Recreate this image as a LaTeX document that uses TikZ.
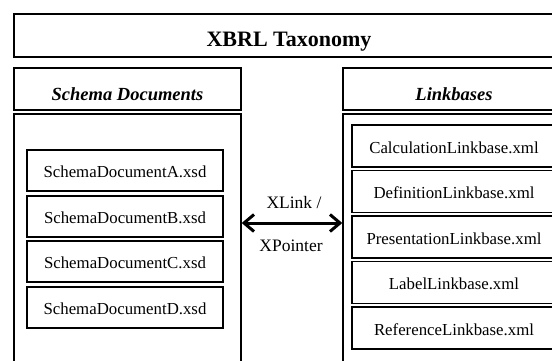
\documentclass[tikz,border=0pt]{standalone}
\usepackage{fontspec}
\setmainfont{Liberation Serif}
\usetikzlibrary{arrows.meta}
\begin{document}
\begin{tikzpicture}[x=1pt,y=-1pt,
  box/.style={draw, line width=1.4pt, rectangle, inner sep=0pt},
  item/.style={draw, line width=1.2pt, rectangle, inner sep=0pt, text height=14.6pt, text depth=0pt, font=\fontsize{16.8}{19}\selectfont},
  head/.style={box, minimum height=42pt, text height=23pt, text depth=0pt, font=\fontsize{18.5}{21}\selectfont\bfseries\itshape},
  lbl/.style={inner sep=0pt, font=\fontsize{17.5}{20}\selectfont}]
\useasboundingbox (0,0) rectangle (552,360);
\clip (0,0) rectangle (552,360);
\node[box, minimum width=550pt, minimum height=43pt, text height=21.6pt, text depth=0pt, font=\fontsize{22}{25}\selectfont\bfseries] (title) at (289,35.5) {XBRL Taxonomy};
\node[head, minimum width=227pt] (shead) at (127.5,89) {Schema Documents};
\node[box, minimum width=227pt, minimum height=306pt] (sbody) at (127.5,267) {};
\node[head, minimum width=222pt] (lhead) at (454,89) {Linkbases};
\node[box, minimum width=222pt, minimum height=306pt] (lbody) at (454,267) {};
\tikzset{sitem/.style={item, minimum width=196pt, minimum height=41pt}}
\node[sitem] (sa) at (125,170.5) {SchemaDocumentA.xsd};
\node[sitem] (sb) at (125,216.5) {SchemaDocumentB.xsd};
\node[sitem] (sc) at (125,261.5) {SchemaDocumentC.xsd};
\node[sitem] (sd) at (125,307.5) {SchemaDocumentD.xsd};
\tikzset{litem/.style={item, minimum width=204pt, minimum height=42pt}}
\node[litem] (la) at (454,146) {CalculationLinkbase.xml};
\node[litem] (lb) at (454,191.5) {DefinitionLinkbase.xml};
\node[litem] (lc) at (454,237) {PresentationLinkbase.xml};
\node[litem] (ld) at (454,282.5) {LabelLinkbase.xml};
\node[litem] (le) at (454,328) {ReferenceLinkbase.xml};
\coordinate (ay) at (0,223);
\draw[line width=3pt, {Straight Barb[length=10pt,width=17pt]}-{Straight Barb[length=10pt,width=17pt]}]
  (sbody.east |- ay) -- (lbody.west |- ay);
\node[lbl] (xl) at (294,203) {XLink /};
\node[lbl] (xp) at (291,246) {XPointer};
\end{tikzpicture}
\end{document}
